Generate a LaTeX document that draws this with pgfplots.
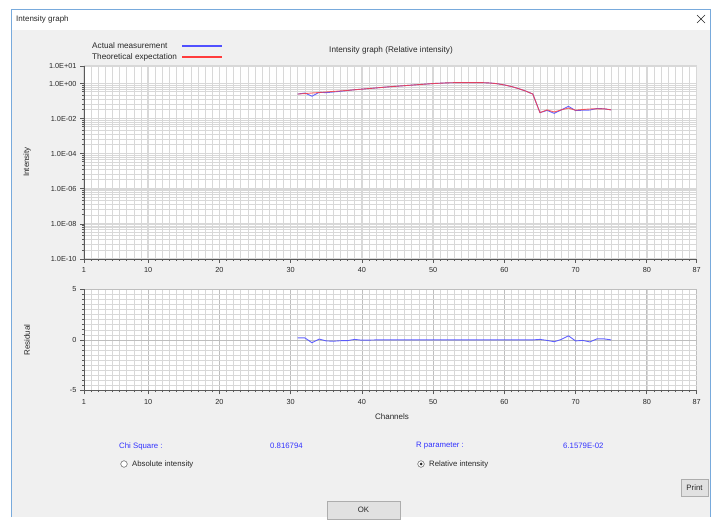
\documentclass[border=0pt]{standalone}
\usepackage{pgfplots}
\pgfplotsset{compat=1.18}
\usepackage{fontspec}
\setmainfont{Liberation Sans}
\definecolor{winbg}{RGB}{240,240,240}
\definecolor{bordercol}{RGB}{120,170,220}
\definecolor{txt}{RGB}{40,40,40}
\definecolor{bluetxt}{RGB}{50,50,255}
\definecolor{axiscol}{RGB}{90,90,90}
\definecolor{mingrid}{RGB}{216,216,216}
\definecolor{majgrid}{RGB}{190,190,190}
\definecolor{measblue}{RGB}{80,80,255}
\definecolor{theored}{RGB}{255,60,60}
\definecolor{btnfill}{RGB}{225,225,225}
\definecolor{btnborder}{RGB}{173,173,173}

\pgfplotstableread{
x y
31 0.251
32 0.269
33 0.288
34 0.309
35 0.331
36 0.355
37 0.380
38 0.407
39 0.442
40 0.479
41 0.519
42 0.562
43 0.610
44 0.661
45 0.708
46 0.759
47 0.813
48 0.871
49 0.933
50 1.000
51 1.047
52 1.096
53 1.122
54 1.122
55 1.122
56 1.122
57 1.122
58 1.072
59 0.977
60 0.832
61 0.676
62 0.513
63 0.372
64 0.251
65 0.0219
66 0.0316
67 0.0240
68 0.0316
69 0.0398
70 0.0302
71 0.0331
72 0.0355
73 0.0363
74 0.0363
75 0.0316
}\theodata

\pgfplotstableread{
x y
31 0.251
32 0.288
33 0.190
34 0.316
35 0.302
36 0.331
37 0.363
38 0.398
39 0.447
40 0.479
41 0.519
42 0.562
43 0.610
44 0.661
45 0.708
46 0.759
47 0.813
48 0.871
49 0.933
50 1.000
51 1.047
52 1.096
53 1.122
54 1.122
55 1.122
56 1.122
57 1.122
58 1.072
59 0.977
60 0.832
61 0.676
62 0.513
63 0.372
64 0.251
65 0.0219
66 0.0295
67 0.0200
68 0.0316
69 0.0501
70 0.0288
71 0.0302
72 0.0309
73 0.0380
74 0.0363
75 0.0316
}\measdata

\pgfplotstableread{
x r
31 0.20
32 0.20
33 -0.28
34 0.08
35 -0.10
36 -0.13
37 -0.08
38 -0.07
39 0.05
40 -0.03
41 -0.02
42 0.00
43 0.00
44 0.00
45 0.00
46 0.00
47 0.00
48 0.00
49 0.00
50 0.00
51 0.00
52 0.00
53 0.00
54 0.00
55 0.00
56 0.00
57 0.00
58 0.00
59 0.00
60 0.00
61 0.00
62 0.00
63 0.00
64 0.00
65 0.05
66 -0.05
67 -0.18
68 0.05
69 0.40
70 -0.10
71 -0.05
72 -0.20
73 0.10
74 0.10
75 0.00
}\resdata

\pgfplotsset{
  chartbase/.style={
    scale only axis,
    width=612.7pt,
    xmin=1, xmax=87,
    axis lines*=left,
    axis line style={draw=axiscol, line width=0.7pt},
    axis background/.style={fill=white},
    tick align=outside,
    major tick length=4pt,
    minor tick length=2pt,
    tick style={draw=axiscol, line width=0.7pt},
    xtick={1,10,20,30,40,50,60,70,80,87},
    xticklabels={1,10,20,30,40,50,60,70,80,87},
    minor xtick={2,...,86},
    grid=both,
    major grid style={draw=majgrid, line width=0.7pt},
    minor grid style={draw=mingrid, line width=0.55pt},
    ticklabel style={font=\fontsize{7.3}{8}\selectfont, text=txt},
    xticklabel style={yshift=-1pt},
  }
}

\begin{document}
\begin{tikzpicture}
\fill[white] (0pt,0pt) rectangle (717pt,517pt);
\fill[winbg] (11.5pt,0pt) rectangle (710pt,487pt);
\fill[white] (11.5pt,487pt) rectangle (710pt,508pt);
\draw[bordercol, line width=0.8pt] (11.5pt,0pt) -- (11.5pt,508pt) -- (710pt,508pt) -- (710pt,0pt);
\node[anchor=west, text=txt, font=\fontsize{8}{9}\selectfont, inner sep=0pt] at (16pt,498pt) {Intensity graph};
\draw[txt, line width=0.6pt] (697pt,494pt) -- (705pt,502pt) (697pt,502pt) -- (705pt,494pt);

% legend and title
\node[anchor=west, text=txt, font=\fontsize{8.2}{9}\selectfont, inner sep=0pt] at (92pt,471pt) {Actual measurement};
\node[anchor=west, text=txt, font=\fontsize{8.2}{9}\selectfont, inner sep=0pt] at (92pt,460pt) {Theoretical expectation};
\fill[measblue] (182pt,470.4pt) rectangle (222pt,471.6pt);
\fill[theored] (182pt,459.4pt) rectangle (222pt,460.6pt);
\node[text=txt, font=\fontsize{8.2}{9}\selectfont, inner sep=0pt] at (391pt,467pt) {Intensity graph (Relative intensity)};

% top axis
\begin{axis}[chartbase,
  at={(84pt,258pt)}, anchor=south west,
  height=193pt,
  ymode=log, ymin=1e-10, ymax=10,
  ytick={1e-10,1e-8,1e-6,1e-4,1e-2,1,10},
  yticklabels={1.0E-10,1.0E-08,1.0E-06,1.0E-04,1.0E-02,1.0E+00,1.0E+01},
  major grid style={draw=mingrid, line width=1.4pt},
  minor ytick={7.76e-1,6.03e-1,4.68e-1,3.47e-1,2.24e-1,1.29e-1,6.76e-2,3.31e-2,
    7.76e-3,6.03e-3,4.68e-3,3.47e-3,2.24e-3,1.29e-3,6.76e-4,3.31e-4,
    7.76e-5,6.03e-5,4.68e-5,3.47e-5,2.24e-5,1.29e-5,6.76e-6,3.31e-6,
    7.76e-7,6.03e-7,4.68e-7,3.47e-7,2.24e-7,1.29e-7,6.76e-8,3.31e-8,
    7.76e-9,6.03e-9,4.68e-9,3.47e-9,2.24e-9,1.29e-9,6.76e-10,3.31e-10},
  extra x ticks={10,20,30,40,50,60,70,80},
  extra x tick labels={},
  extra x tick style={grid style={draw=majgrid, line width=0.7pt}, major tick length=0pt},
]
\addplot[measblue, line width=0.9pt, opacity=0.9] table[x=x,y=y] {\measdata};
\addplot[theored, line width=0.9pt, opacity=0.8] table[x=x,y=y] {\theodata};
\end{axis}

% residual axis
\begin{axis}[chartbase,
  at={(84pt,126.5pt)}, anchor=south west,
  height=101.2pt,
  ymin=-5, ymax=5,
  ytick={-5,0,5},
  yticklabels={-5,0,5},
  minor ytick={-4.5,-4,...,4.5},
]
\addplot[measblue, line width=0.9pt, opacity=0.9] table[x=x,y=r] {\resdata};
\end{axis}

\node[rotate=90, text=txt, font=\fontsize{8}{9}\selectfont, inner sep=0pt] at (27pt,355pt) {Intensity};
\node[rotate=90, text=txt, font=\fontsize{8}{9}\selectfont, inner sep=0pt] at (27pt,177pt) {Residual};
\node[text=txt, font=\fontsize{8}{9}\selectfont, inner sep=0pt] at (392pt,100pt) {Channels};

% bottom info
\node[anchor=west, text=bluetxt, font=\fontsize{7.8}{9}\selectfont, inner sep=0pt] at (119pt,71pt) {Chi Square :};
\node[anchor=west, text=bluetxt, font=\fontsize{7.8}{9}\selectfont, inner sep=0pt] at (270pt,71pt) {0.816794};
\node[anchor=west, text=bluetxt, font=\fontsize{7.8}{9}\selectfont, inner sep=0pt] at (416pt,71pt) {R parameter :};
\node[anchor=west, text=bluetxt, font=\fontsize{7.8}{9}\selectfont, inner sep=0pt] at (563pt,71pt) {6.1579E-02};

\draw[fill=white, draw=axiscol, line width=0.5pt] (124pt,53pt) circle (3.3pt);
\node[anchor=west, text=txt, font=\fontsize{7.8}{9}\selectfont, inner sep=0pt] at (132pt,53pt) {Absolute intensity};
\draw[fill=white, draw=axiscol, line width=0.5pt] (421pt,53pt) circle (3.3pt);
\fill[txt] (421pt,53pt) circle (1.5pt);
\node[anchor=west, text=txt, font=\fontsize{7.8}{9}\selectfont, inner sep=0pt] at (429pt,53pt) {Relative intensity};

\draw[fill=btnfill, draw=btnborder, line width=0.6pt] (681pt,21pt) rectangle (708pt,38pt);
\node[text=txt, font=\fontsize{7.8}{9}\selectfont, inner sep=0pt] at (694.5pt,29.5pt) {Print};
\draw[fill=btnfill, draw=btnborder, line width=0.6pt] (327pt,-2pt) rectangle (400pt,16pt);
\node[text=txt, font=\fontsize{7.8}{9}\selectfont, inner sep=0pt] at (363.5pt,7pt) {OK};

\useasboundingbox (0pt,0pt) rectangle (717pt,517pt);
\end{tikzpicture}
\end{document}
